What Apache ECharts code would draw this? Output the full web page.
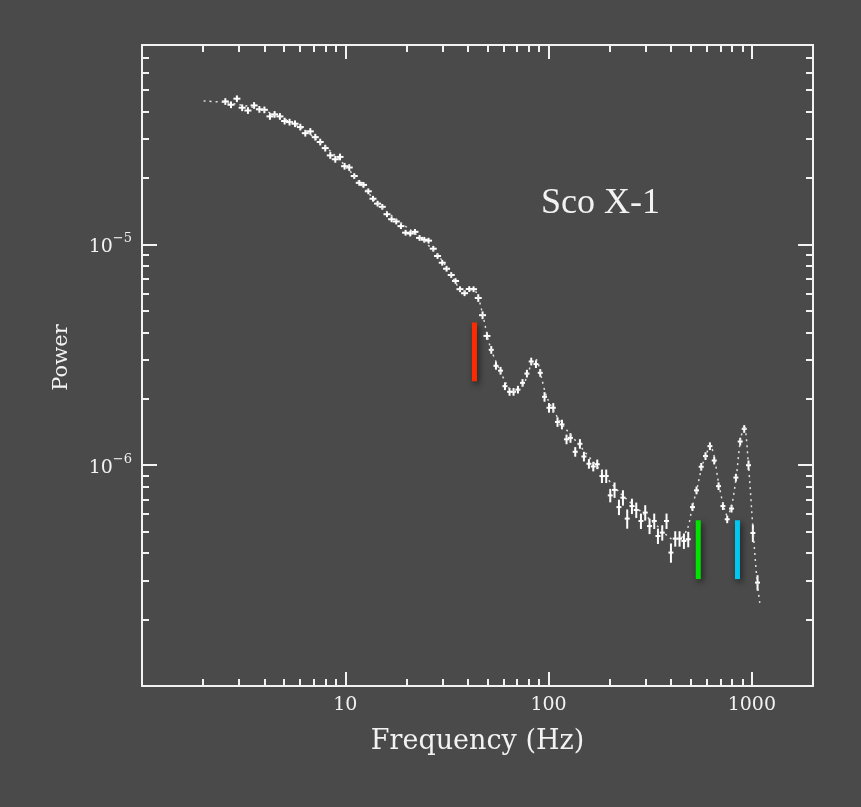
<!DOCTYPE html>
<html>
<head>
<meta charset="utf-8">
<title>Sco X-1 power spectrum</title>
<script src="https://cdn.jsdelivr.net/npm/echarts@6/dist/echarts.min.js"></script>
<style>
  html, body { margin: 0; padding: 0; background: #4a4a4a; }
  #chart { width: 861px; height: 807px; }
</style>
</head>
<body>
<div id="chart"></div>
<script>
"use strict";

// frequency of each measured bin (Hz)
var freq = [2.57, 2.74, 2.93, 3.11, 3.32, 3.56, 3.78, 4.00, 4.26, 4.49,
    4.77, 5.03, 5.32, 5.66, 6.01, 6.36, 6.73, 7.12, 7.53, 7.97,
    8.44, 8.93, 9.42, 9.92, 10.46, 11.07, 11.72, 12.30, 12.98, 13.69,
    14.42, 15.21, 16.04, 16.90, 17.82, 18.79, 19.80, 20.88, 22.02, 23.20,
    24.47, 25.69, 27.10, 28.44, 30.00, 31.50, 33.21, 34.87, 36.66, 38.62,
    40.73, 42.77, 45.11, 47.36, 49.77, 52.26, 55.12, 58.06, 61.03, 64.30,
    67.27, 70.70, 74.48, 78.28, 82.19, 86.70, 91.04, 95.56, 100.5, 105.5,
    110.7, 116.4, 122.6, 128.2, 135.3, 142.7, 149.3, 158.0, 166.0, 173.6,
    183.1, 192.2, 201.2, 211.2, 222.0, 232.3, 243.8, 257.2, 270.1, 284.8,
    299.0, 314.0, 331.1, 345.3, 362.6, 380.6, 400.1, 420.1, 441.1, 463.5,
    486.7, 510.9, 534.6, 563.8, 591.9, 622.2, 653.3, 686.0, 720.9, 756.9,
    794.7, 835.3, 876.9, 917.6, 963.4, 1012, 1067];

// power of each bin, in units of 1e-6
var power = [44.4, 42.9, 45.7, 41.6, 40.4, 42.6, 40.9, 40.7, 38.0, 38.8,
    38.0, 36.2, 35.8, 35.2, 34.0, 31.9, 32.5, 30.6, 29.1, 27.3,
    25.3, 24.3, 24.9, 22.6, 22.3, 20.4, 19.0, 18.6, 17.4, 16.1,
    15.3, 14.8, 13.7, 13.0, 12.7, 12.1, 11.3, 11.2, 11.4, 10.7,
    10.5, 10.4, 9.56, 8.86, 8.26, 7.76, 7.27, 6.83, 6.27, 6.01,
    6.28, 6.27, 5.72, 4.78, 3.85, 3.33, 2.82, 2.68, 2.28, 2.15,
    2.15, 2.20, 2.36, 2.60, 2.95, 2.87, 2.62, 2.04, 1.82, 1.82,
    1.57, 1.53, 1.31, 1.33, 1.15, 1.25, 1.095, 1.015, 0.987, 1.01,
    0.893, 0.893, 0.730, 0.773, 0.646, 0.713, 0.573, 0.653, 0.627, 0.559,
    0.610, 0.530, 0.559, 0.478, 0.495, 0.559, 0.402, 0.465, 0.465, 0.454,
    0.462, 0.646, 0.769, 0.984, 1.10, 1.22, 1.05, 0.804, 0.653, 0.569,
    0.636, 0.879, 1.28, 1.46, 1.00, 0.493, 0.294];

// error of each bin, percent of power
var powerErr = [3.5, 3.5, 3.5, 3.5, 3.5, 3.5, 3.5, 3.5, 3.5, 3.5,
    3.5, 3.5, 3.5, 3.5, 3.5, 3.5, 3.5, 3.5, 3.5, 3.5,
    3.5, 3.5, 3.5, 3.5, 3.5, 3, 3, 3, 3, 3,
    3, 3, 3, 3, 3, 3, 3, 3, 3, 3,
    3, 3, 3, 3, 3, 3, 3, 3, 3, 3,
    3, 3, 4, 4, 4, 4, 4, 4, 4, 4,
    4, 4, 4, 4, 4, 4, 4, 5, 5, 5,
    5, 5, 5, 5, 5, 5, 5, 5, 5, 5,
    7, 7, 7, 8, 8, 8, 10, 8, 8, 8,
    8, 8, 8, 8, 8, 8, 10, 8, 8, 8,
    8, 4, 4, 4, 4, 4, 4, 4, 4, 4,
    4, 4, 4, 4, 5, 9, 8];

// dotted model curve
var modelFreq = [2.01, 2.57, 3.82, 6.01, 9.44, 14.9, 23.4, 29.3, 34.8, 37.6,
    41.2, 44.0, 47.1, 51.5, 58.0, 64.7, 69.3, 76.4, 83.2, 87.0,
    91.8, 98.0, 114, 143, 180, 226, 284, 357, 397, 435,
    481, 509, 539, 570, 597, 624, 653, 684, 723, 757,
    792, 838, 877, 918, 960, 1016, 1063, 1100];
var modelPower = [44.6, 43.9, 40.9, 33.9, 24.0, 14.9, 10.7, 8.68, 6.76, 6.09,
    6.22, 6.09, 4.95, 3.47, 2.65, 2.20, 2.15, 2.39, 2.94, 3.00,
    2.54, 2.04, 1.58, 1.22, 0.947, 0.745, 0.618, 0.513, 0.467, 0.462,
    0.513, 0.644, 0.793, 0.997, 1.12, 1.23, 1.095, 0.845, 0.665, 0.593,
    0.644, 0.881, 1.28, 1.51, 1.04, 0.497, 0.295, 0.230];

// QPO markers
var qpoFreq = [43.2, 545, 850];
var qpoLow = [2.40, 0.305, 0.305];
var qpoHigh = [4.43, 0.563, 0.563];
var qpoColor = ['#ff2a00', '#00e400', '#00c8f2'];

var xMajor = [10, 100, 1000];
var xMinor = [2, 3, 4, 5, 6, 7, 8, 9, 20, 30, 40, 50, 60, 70, 80, 90,
    200, 300, 400, 500, 600, 700, 800, 900];
var yMajor = [1e-6, 1e-5];
var yMinor = [2e-7, 3e-7, 4e-7, 5e-7, 6e-7, 7e-7, 8e-7, 9e-7,
    2e-6, 3e-6, 4e-6, 5e-6, 6e-6, 7e-6, 8e-6, 9e-6,
    2e-5, 3e-5, 4e-5, 5e-5, 6e-5, 7e-5];

var E6 = 1e-6;
var fg = '#f2f2f2';
var labelFont = '"DejaVu Serif", "Liberation Serif", serif';

var chart = echarts.init(document.getElementById('chart'));

function makeAxis(kind, position, ticks, len, showLine, showLabel) {
    var isX = kind === 'x';
    var ax = {
        type: 'log',
        logBase: 10,
        min: isX ? 1 : 1e-7,
        max: isX ? 2000 : 8e-5,
        position: position,
        axisLine: { show: showLine, onZero: false, lineStyle: { color: fg, width: 2 } },
        axisTick: { show: true, inside: true, length: len, customValues: ticks,
                    lineStyle: { color: fg, width: 2 } },
        axisLabel: { show: false },
        splitLine: { show: false },
        minorTick: { show: false },
        minorSplitLine: { show: false }
    };
    if (showLabel && isX) {
        ax.axisLabel = {
            show: true, customValues: xMajor, margin: 10,
            color: fg, fontFamily: labelFont, fontSize: 19,
            formatter: function (v) { return String(Math.round(v)); }
        };
        ax.name = 'Frequency (Hz)';
        ax.nameLocation = 'middle';
        ax.nameGap = 42;
        ax.nameTextStyle = { color: fg, fontFamily: labelFont, fontSize: 27 };
    }
    if (showLabel && !isX) {
        ax.axisLabel = {
            show: true, customValues: yMajor, margin: 10,
            formatter: function (v) {
                return '{b|10}{s|' + '\u2212' + Math.round(-Math.log10(v)) + '}';
            },
            rich: {
                b: { color: fg, fontFamily: labelFont, fontSize: 19, lineHeight: 24, verticalAlign: 'bottom' },
                s: { color: fg, fontFamily: labelFont, fontSize: 13, lineHeight: 14, verticalAlign: 'top' }
            }
        };
        ax.name = 'Power';
        ax.nameLocation = 'middle';
        ax.nameGap = 70;
        ax.nameRotate = 90;
        ax.nameTextStyle = { color: fg, fontFamily: labelFont, fontSize: 21, padding: [0, 0, 0, 16] };
    }
    return ax;
}

function renderCross(params, api) {
    var f = api.value(0);
    var p = api.value(1);
    var e = api.value(2) / 100;
    var c = api.coord([f, p]);
    var top = api.coord([f, p * (1 + e)]);
    var bot = api.coord([f, p * (1 - e)]);
    var hw = f < 50 ? 3.5 : 2.5;
    var st = { stroke: '#ffffff', lineWidth: 2 };
    return {
        type: 'group',
        children: [
            { type: 'line', shape: { x1: c[0] - hw, y1: c[1], x2: c[0] + hw, y2: c[1] }, style: st },
            { type: 'line', shape: { x1: c[0], y1: top[1], x2: c[0], y2: bot[1] }, style: st }
        ]
    };
}

function renderQpo(params, api) {
    var f = api.value(0);
    var hi = api.coord([f, api.value(2)]);
    var lo = api.coord([f, api.value(1)]);
    return {
        type: 'rect',
        shape: { x: hi[0] - 2.5, y: hi[1], width: 5, height: lo[1] - hi[1] },
        style: {
            fill: qpoColor[params.dataIndex],
            shadowBlur: 6, shadowColor: 'rgba(0,0,0,0.6)', shadowOffsetX: 2, shadowOffsetY: 3
        }
    };
}

var crossData = freq.map(function (f, i) { return [f, power[i] * E6, powerErr[i]]; });
var modelData = modelFreq.map(function (f, i) { return [f, modelPower[i] * E6]; });
var qpoData = qpoFreq.map(function (f, i) { return [f, qpoLow[i] * E6, qpoHigh[i] * E6]; });

var option = {
    backgroundColor: '#4a4a4a',
    animation: false,
    grid: { left: 142, right: 48, top: 45, bottom: 121 },
    xAxis: [
        makeAxis('x', 'bottom', xMajor, 14, true, true),
        makeAxis('x', 'bottom', xMinor, 7, false, false),
        makeAxis('x', 'top', xMajor, 14, true, false),
        makeAxis('x', 'top', xMinor, 7, false, false)
    ],
    yAxis: [
        makeAxis('y', 'left', yMajor, 15, true, true),
        makeAxis('y', 'left', yMinor, 7, false, false),
        makeAxis('y', 'right', yMajor, 15, true, false),
        makeAxis('y', 'right', yMinor, 7, false, false)
    ],
    graphic: [{
        type: 'text',
        left: 541,
        top: 186,
        style: {
            text: 'Sco X-1',
            fill: fg,
            font: '36px "Liberation Serif", "DejaVu Serif", serif'
        }
    }],
    series: [
        {
            type: 'line',
            name: 'model',
            data: modelData,
            symbol: 'none',
            smooth: 0.3,
            silent: true,
            lineStyle: { color: '#e0e0e0', width: 1.5, type: [2, 4] }
        },
        {
            type: 'custom',
            name: 'data',
            data: crossData,
            renderItem: renderCross,
            silent: true
        },
        {
            type: 'custom',
            name: 'qpo',
            data: qpoData,
            renderItem: renderQpo,
            silent: true
        }
    ]
};

chart.setOption(option);
</script>
</body>
</html>
